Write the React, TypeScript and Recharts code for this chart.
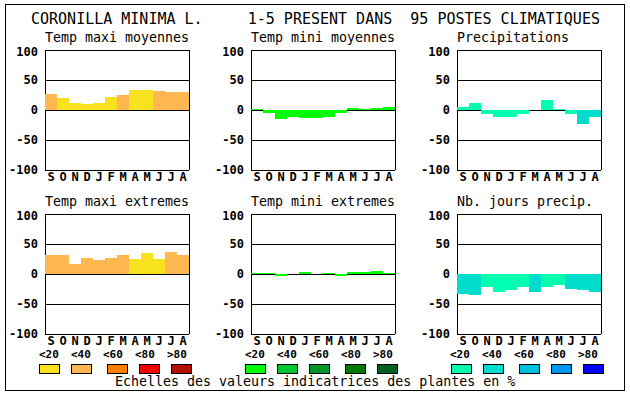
import React from 'react';
import { BarChart, Bar, Cell, XAxis, YAxis, CartesianGrid } from 'recharts';

const months = ['S', 'O', 'N', 'D', 'J', 'F', 'M', 'A', 'M', 'J', 'J', 'A'];
const yTicks = [-100, -50, 0, 50, 100];
const scaleLabels = ['<20', '<40', '<60', '<80', '>80'];

const warmColors = ['#f8e21e', '#ffb850', '#ff8000', '#f00000', '#b01000'];
const greenColors = ['#00ff00', '#00c832', '#009628', '#007800', '#006020'];
const blueColors = ['#00ffb0', '#00ddcc', '#00bede', '#0096f0', '#0000ff'];

// values, levels = colour class 0..4
const maxiMoy = [27, 20.5, 12, 10.5, 12, 22, 25.5, 34, 34, 32, 30.5, 30.5];
const maxiMoyLvl = [1, 0, 0, 0, 0, 0, 1, 0, 0, 1, 1, 1];
const miniMoy = [2, -5.5, -14.5, -11, -13, -13, -11, -4.5, 4, 2, 4, 5.5];
const miniMoyLvl = [0, 0, 0, 0, 0, 0, 0, 0, 0, 0, 0, 0];
const precip = [5.5, 12, -6, -11, -11, -6, 0, 16.5, 1.5, -6, -24, -11];
const precipLvl = [0, 0, 0, 0, 0, 0, 0, 0, 0, 0, 1, 1];
const maxiExt = [32, 32, 17, 27, 24, 27, 32, 25.5, 35.5, 25.5, 37, 32];
const maxiExtLvl = [1, 1, 1, 1, 1, 1, 1, 0, 0, 0, 1, 1];
const miniExt = [1.5, 1.5, -2.5, 0, 4, 0, 1.5, -2.5, 3, 3, 5, 1.5];
const miniExtLvl = [0, 0, 0, 0, 0, 0, 0, 0, 0, 0, 0, 0];
const joursPrecip = [-33, -35.5, -22, -30, -26, -22, -30, -22, -18, -24.5, -27, -30];
const joursPrecipLvl = [1, 1, 0, 0, 0, 0, 1, 0, 0, 1, 1, 1];

const mono = '"DejaVu Sans Mono", monospace';

type PanelProps = {
  title: string;
  x: number;
  y: number;
  values: number[];
  levels: number[];
  colors: string[];
};

const Panel: React.FC<PanelProps> = ({ title, x, y, values, levels, colors }) => {
  const data = months.map((m, i) => ({ m, v: values[i], lvl: levels[i] }));
  return (
    <>
      <div style={{ position: 'absolute', left: x, top: y - 20, font: `13.3px ${mono}`, whiteSpace: 'pre', lineHeight: '16px' }}>
        {title}
      </div>
      <div style={{ position: 'absolute', left: x - 40, top: y - 6 }}>
        <BarChart width={188} height={146} data={data} margin={{ top: 6, right: 4, left: 0, bottom: 0 }} barCategoryGap={0} barGap={0}>
          <CartesianGrid stroke="#000" strokeWidth={1} verticalPoints={[40, 184]} />
          <XAxis
            dataKey="m"
            height={20}
            axisLine={false}
            tickLine={false}
            tickSize={0}
            tickMargin={2}
            interval={0}
            tick={{ fill: '#000', fontSize: 12, fontWeight: 'bold', fontFamily: mono }}
          />
          <YAxis
            width={40}
            domain={[-100, 100]}
            ticks={yTicks}
            axisLine={false}
            tickLine={false}
            tickSize={0}
            tickMargin={7}
            tick={{ fill: '#000', fontSize: 12, fontWeight: 'bold', fontFamily: mono }}
          />
          <Bar dataKey="v" isAnimationActive={false}>
            {data.map((d, i) => (
              <Cell key={`c-${i}`} fill={colors[d.lvl]} />
            ))}
          </Bar>
        </BarChart>
      </div>
    </>
  );
};

const Scale: React.FC<{ x: number; colors: string[]; boxOffsets: number[] }> = ({ x, colors, boxOffsets }) => (
  <>
    {scaleLabels.map((l, i) => (
      <div key={`l-${i}`} style={{ position: 'absolute', left: x + i * 32, top: 348, font: `bold 11px ${mono}`, lineHeight: '14px' }}>
        {l}
      </div>
    ))}
    {colors.map((c, i) => (
      <div
        key={`b-${i}`}
        style={{ position: 'absolute', left: x + boxOffsets[i], top: 364, width: 21, height: 10, boxSizing: 'border-box', border: '1px solid #000', background: c }}
      />
    ))}
  </>
);

export default function App() {
  return (
    <div className="cc" style={{ position: 'absolute', left: 0, top: 0, width: 630, height: 394, background: '#fff', color: '#000' }}>
      <style>{`.cc svg line, .cc svg rect, .cc svg path { shape-rendering: crispEdges; }`}</style>
      <div style={{ position: 'absolute', left: 5, top: 4, width: 620, height: 387, boxSizing: 'border-box', border: '1px solid #000' }} />
      <div style={{ position: 'absolute', left: 31, top: 10, font: `15px ${mono}`, whiteSpace: 'pre', lineHeight: '18px' }}>
        {'CORONILLA MINIMA L.     1-5 PRESENT DANS  95 POSTES CLIMATIQUES'}
      </div>

      <Panel title="Temp maxi moyennes" x={45} y={50} values={maxiMoy} levels={maxiMoyLvl} colors={warmColors} />
      <Panel title="Temp mini moyennes" x={251} y={50} values={miniMoy} levels={miniMoyLvl} colors={greenColors} />
      <Panel title="Precipitations" x={457} y={50} values={precip} levels={precipLvl} colors={blueColors} />
      <Panel title="Temp maxi extremes" x={45} y={214} values={maxiExt} levels={maxiExtLvl} colors={warmColors} />
      <Panel title="Temp mini extremes" x={251} y={214} values={miniExt} levels={miniExtLvl} colors={greenColors} />
      <Panel title="Nb. jours precip." x={457} y={214} values={joursPrecip} levels={joursPrecipLvl} colors={blueColors} />

      <Scale x={39} colors={warmColors} boxOffsets={[0, 32, 68, 100, 132]} />
      <Scale x={245} colors={greenColors} boxOffsets={[0, 32, 64, 100, 132]} />
      <Scale x={450} colors={blueColors} boxOffsets={[1, 33, 69, 101, 133]} />

      <div style={{ position: 'absolute', left: 115, top: 374, font: `13.3px ${mono}`, whiteSpace: 'pre', lineHeight: '16px' }}>
        {'Echelles des valeurs indicatrices des plantes en %'}
      </div>
    </div>
  );
}
